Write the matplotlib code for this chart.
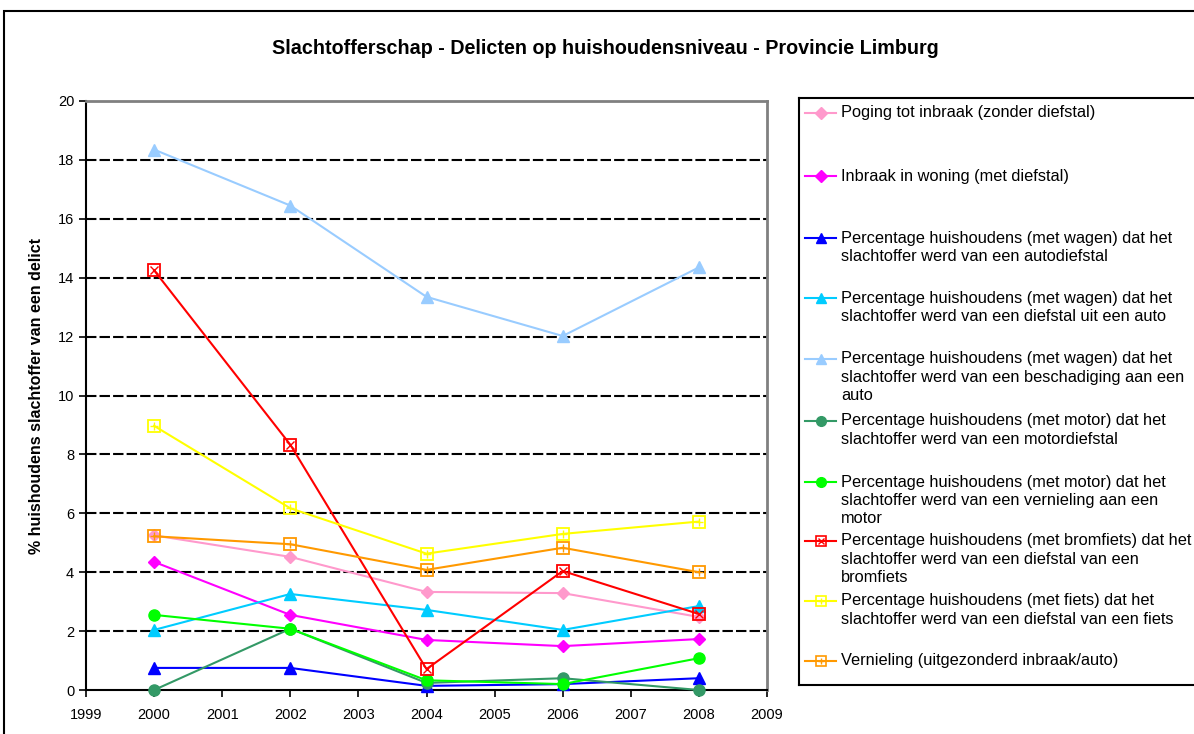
import matplotlib
matplotlib.use("Agg")
from matplotlib import pyplot as plt
from matplotlib.patches import Rectangle
from matplotlib.lines import Line2D

plt.rcParams['font.family'] = ['Liberation Sans', 'DejaVu Sans']

years = [2000, 2002, 2004, 2006, 2008]

labels = [
    'Poging tot inbraak (zonder diefstal)',
    'Inbraak in woning (met diefstal)',
    'Percentage huishoudens (met wagen) dat het\nslachtoffer werd van een autodiefstal',
    'Percentage huishoudens (met wagen) dat het\nslachtoffer werd van een diefstal uit een auto',
    'Percentage huishoudens (met wagen) dat het\nslachtoffer werd van een beschadiging aan een\nauto',
    'Percentage huishoudens (met motor) dat het\nslachtoffer werd van een motordiefstal',
    'Percentage huishoudens (met motor) dat het\nslachtoffer werd van een vernieling aan een\nmotor',
    'Percentage huishoudens (met bromfiets) dat het\nslachtoffer werd van een diefstal van een\nbromfiets',
    'Percentage huishoudens (met fiets) dat het\nslachtoffer werd van een diefstal van een fiets',
    'Vernieling (uitgezonderd inbraak/auto)',
]

poging = [5.25, 4.52, 3.33, 3.29, 2.48]
inbraak = [4.35, 2.55, 1.70, 1.49, 1.73]
autodiefstal = [0.75, 0.75, 0.14, 0.20, 0.40]
diefstal_uit_auto = [2.04, 3.26, 2.72, 2.04, 2.85]
beschadiging_auto = [18.35, 16.45, 13.35, 12.02, 14.35]
motordiefstal = [0.0, 2.08, 0.24, 0.40, 0.0]
vernieling_motor = [2.55, 2.08, 0.33, 0.20, 1.08]
bromfiets = [14.25, 8.33, 0.71, 4.04, 2.58]
fiets = [8.97, 6.17, 4.63, 5.30, 5.72]
vernieling = [5.22, 4.95, 4.08, 4.83, 4.00]

series = [poging, inbraak, autodiefstal, diefstal_uit_auto, beschadiging_auto,
          motordiefstal, vernieling_motor, bromfiets, fiets, vernieling]
colors = ['#FF99CC', '#FF00FF', '#0000FF', '#00CCFF', '#99CCFF',
          '#339966', '#00FF00', '#FF0000', '#FFFF00', '#FF9900']
markers = ['D', 'D', '^', '^', '^', 'o', 'o', 's', 's', 's']
inner = [None, None, None, None, None, None, None, 'x', '+', '+']

fig = plt.figure(figsize=(11.94, 7.34), dpi=100)
fig.patches.append(Rectangle((4 / 1194, -0.02), 1.1, 1 - 11 / 734 + 0.02,
                             transform=fig.transFigure, fill=False,
                             edgecolor='black', linewidth=1.5))

ax = fig.add_axes([86 / 1194, 44 / 734, 681 / 1194, 589 / 734])

for vals, c, m, inn in zip(series, colors, markers, inner):
    if m == 's':
        ax.plot(years, vals, color=c, lw=1.5, marker=m, ms=8,
                mfc='none', mec=c, mew=1.3, clip_on=False, zorder=3)
        ax.plot(years, vals, ls='none', marker=inn, ms=6, mec=c, mew=1,
                clip_on=False, zorder=4)
    else:
        ms = 6 if m == 'D' else 8
        ax.plot(years, vals, color=c, lw=1.5, marker=m, ms=ms,
                mfc=c, mec=c, clip_on=False, zorder=3)

ax.set_xlim(1999, 2009)
ax.set_ylim(0, 20)
ax.set_xticks(range(1999, 2010))
ax.set_yticks(range(0, 21, 2))
ax.tick_params(labelsize=10.5, direction='out', length=5, width=1.2)
ax.tick_params(axis='x', pad=8)
for y in range(2, 20, 2):
    ax.axhline(y, color='black', lw=1.5, ls=(0, (5, 1.5)), zorder=1)
ax.spines['left'].set_linewidth(1.5)
ax.spines['bottom'].set_linewidth(1.5)
ax.spines['top'].set_color('#808080')
ax.spines['right'].set_color('#808080')
ax.spines['top'].set_linewidth(2)
ax.spines['right'].set_linewidth(2)
ax.set_ylabel('% huishoudens slachtoffer van een delict', fontsize=11.5,
              fontweight='bold', labelpad=10)

fig.text(0.507, 1 - 48 / 734, 'Slachtofferschap - Delicten op huishoudensniveau - Provincie Limburg',
         ha='center', va='center', fontsize=14.2, fontweight='bold')

# legend drawn by hand, Excel style
lax = fig.add_axes([799 / 1194, 49 / 734, 420 / 1194, 587 / 734])
lax.set_xlim(799, 1219)
lax.set_ylim(685, 98)
lax.set_xticks([])
lax.set_yticks([])
for s in lax.spines.values():
    s.set_linewidth(1.5)
entry_y = [113, 176, 238, 298, 359, 421, 482, 541, 601, 661]
for lab, c, m, inn, yy in zip(labels, colors, markers, inner, entry_y):
    lax.add_line(Line2D([805, 836], [yy, yy], color=c, lw=1.5))
    if m == 's':
        lax.plot([820.5], [yy], marker=m, ms=7, mfc='none', mec=c, mew=1.2)
        lax.plot([820.5], [yy], marker=inn, ms=5, mec=c, mew=1)
    else:
        lax.plot([820.5], [yy], marker=m, ms=6 if m == 'D' else 7, color=c)
    lax.text(841, yy - 7.5, lab, fontsize=11.8, va='top', ha='left', linespacing=1.28)

fig.savefig('out.png', dpi=100)
